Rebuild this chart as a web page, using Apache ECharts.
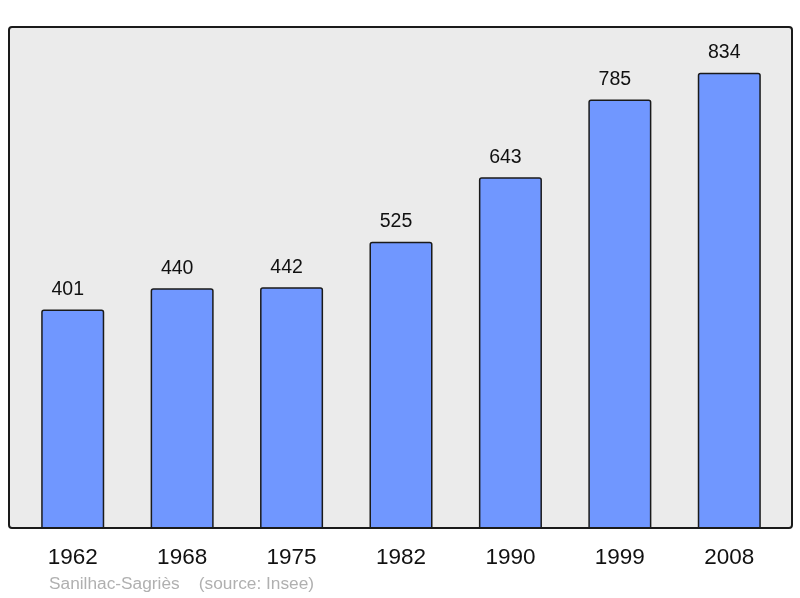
<!DOCTYPE html>
<html><head><meta charset="utf-8">
<script src="https://cdn.jsdelivr.net/npm/echarts@6/dist/echarts.min.js"></script>
<style>html,body{margin:0;padding:0;background:#fff}#c{width:800px;height:598px}</style>
</head><body><div id="c"></div>
<script>
const years = ['1962','1968','1975','1982','1990','1999','2008'];
const population = [401,440,442,525,643,785,834];
const sourceText = 'Sanilhac-Sagriès    (source: Insee)';

const chart = echarts.init(document.getElementById('c'), null, {renderer:'canvas'});
chart.setOption({
  animation:false,
  textStyle:{fontFamily:'Liberation Sans, Arial, sans-serif'},
  grid:{left:18,right:16,top:27,bottom:69},
  graphic:[
    {type:'rect',z:-10,shape:{x:9,y:27,width:783,height:501,r:3},style:{fill:'#ebebeb',stroke:null}},
    {type:'rect',z:100,shape:{x:9,y:27,width:783,height:501,r:3},style:{fill:null,stroke:'#1a1a1a',lineWidth:2}},
    {type:'text',left:49,top:576,style:{text:sourceText,fill:'#b0b0b0',fontSize:17.3,fontFamily:'Liberation Sans, Arial, sans-serif'}}
  ],
  xAxis:{type:'category',data:years,axisLine:{show:false},axisTick:{show:false},
    axisLabel:{color:'#111',fontSize:22.5,margin:17}},
  yAxis:{type:'value',min:0,max:917.4,show:false,splitLine:{show:false}},
  series:[{type:'bar',data:population,barWidth:'57.6%',
    itemStyle:{color:'#7097ff',borderColor:'#1a1a1a',borderWidth:1.5,borderRadius:[2,2,0,0]},
    label:{show:true,position:'top',distance:10,offset:[-5,0],color:'#111',fontSize:19.5}}]
});
</script></body></html>
